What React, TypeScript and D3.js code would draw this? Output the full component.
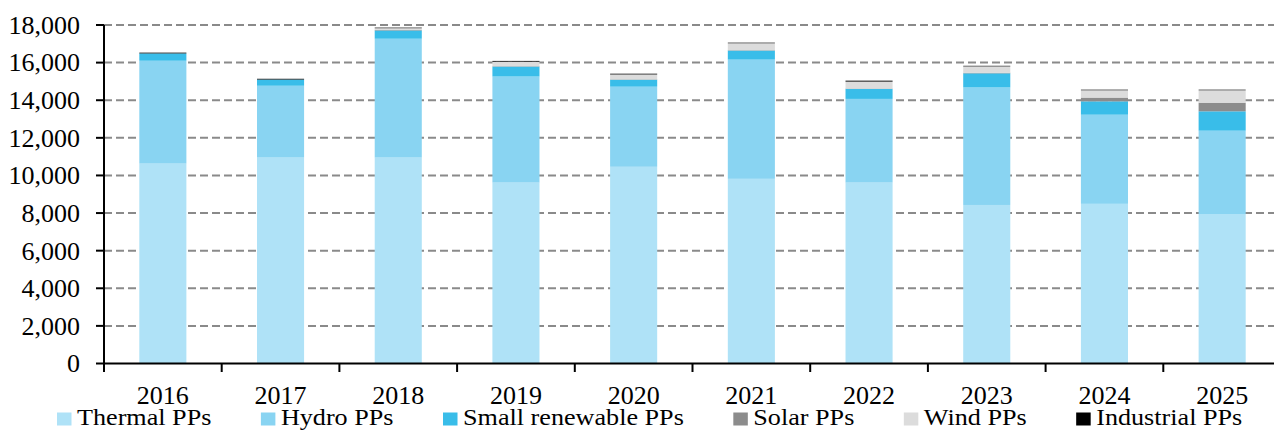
import { useEffect, useRef } from "react";
import * as d3 from "d3";

const years = ["2016", "2017", "2018", "2019", "2020", "2021", "2022", "2023", "2024", "2025"];
const thermal = [10630, 10950, 10950, 9620, 10460, 9820, 9620, 8430, 8490, 7950];
const hydro = [5470, 3820, 6320, 5640, 4260, 6340, 4450, 6250, 4740, 4430];
const smallRenewable = [390, 330, 440, 530, 370, 480, 530, 750, 710, 1030];
const solar = [0, 0, 30, 20, 20, 20, 20, 30, 200, 460];
const wind = [0, 0, 90, 240, 260, 370, 370, 340, 390, 660];
const industrial = [40, 40, 30, 40, 40, 30, 50, 30, 30, 30];
const yTicks = [0, 2000, 4000, 6000, 8000, 10000, 12000, 14000, 16000, 18000];

const seriesNames = ["Thermal PPs", "Hydro PPs", "Small renewable PPs", "Solar PPs", "Wind PPs", "Industrial PPs"];
const seriesColors = ["#afe2f7", "#89d4f2", "#39bde9", "#8c8c8c", "#dcdcdc", "#000000"];

const FONT = "'Liberation Serif', 'Times New Roman', serif";

function StackChart() {
  const ref = useRef<SVGSVGElement>(null);

  useEffect(() => {
    const width = 1274;
    const height = 431;
    const margin = { top: 25, left: 104, bottom: 363.5 };

    const svg = d3.select(ref.current);
    svg.selectAll("*").remove();

    const rows = years.map((y, i) => ({
      year: y,
      t: thermal[i],
      h: hydro[i],
      s: smallRenewable[i],
      so: solar[i],
      w: wind[i],
      ind: industrial[i],
    }));
    const keys = ["t", "h", "s", "so", "w", "ind"];
    const stacked = d3.stack<any>().keys(keys)(rows);

    const x = d3
      .scaleBand()
      .domain(years)
      .range([margin.left, 1281])
      .paddingInner(0.6)
      .paddingOuter(0.3);

    const y = d3.scaleLinear().domain([0, 18000]).range([margin.bottom, margin.top]);

    // grid
    svg
      .append("g")
      .selectAll("line")
      .data(yTicks.filter((d) => d > 0))
      .join("line")
      .attr("x1", margin.left)
      .attr("x2", width)
      .attr("y1", (d) => y(d))
      .attr("y2", (d) => y(d))
      .attr("stroke", "#8a8a8a")
      .attr("stroke-width", 2)
      .attr("stroke-dasharray", "8,4");

    // bars
    svg
      .append("g")
      .selectAll("g")
      .data(stacked)
      .join("g")
      .attr("fill", (d, i) => seriesColors[i])
      .selectAll("rect")
      .data((d) => d)
      .join("rect")
      .attr("x", (d: any) => x(d.data.year)!)
      .attr("width", x.bandwidth())
      .attr("y", (d) => y(d[1]))
      .attr("height", (d) => y(d[0]) - y(d[1]));

    // y axis
    const yAxis = svg.append("g").attr("transform", `translate(${margin.left},0)`);
    yAxis
      .append("line")
      .attr("y1", margin.top)
      .attr("y2", margin.bottom + 8.5)
      .attr("stroke", "#000")
      .attr("stroke-width", 2);
    yAxis
      .selectAll(".tk")
      .data(yTicks)
      .join("line")
      .attr("x1", -8)
      .attr("x2", 0)
      .attr("y1", (d) => y(d))
      .attr("y2", (d) => y(d))
      .attr("stroke", "#000")
      .attr("stroke-width", 2);
    yAxis
      .selectAll("text")
      .data(yTicks)
      .join("text")
      .attr("x", -24)
      .attr("y", (d) => y(d))
      .attr("dy", "0.34em")
      .attr("text-anchor", "end")
      .attr("font-family", FONT)
      .attr("font-size", 26)
      .text((d) => d3.format(",")(d));

    // x axis
    const step = x.step();
    const bounds = years.map((_, i) => margin.left + i * step);
    const xAxis = svg.append("g");
    xAxis
      .append("line")
      .attr("x1", margin.left)
      .attr("x2", width)
      .attr("y1", margin.bottom)
      .attr("y2", margin.bottom)
      .attr("stroke", "#000")
      .attr("stroke-width", 2);
    xAxis
      .selectAll(".tk")
      .data(bounds.slice(1))
      .join("line")
      .attr("x1", (d) => d)
      .attr("x2", (d) => d)
      .attr("y1", margin.bottom)
      .attr("y2", margin.bottom + 8.5)
      .attr("stroke", "#000")
      .attr("stroke-width", 2);
    xAxis
      .selectAll("text")
      .data(years)
      .join("text")
      .attr("x", (d) => x(d)! + x.bandwidth() / 2)
      .attr("y", 404)
      .attr("text-anchor", "middle")
      .attr("font-family", FONT)
      .attr("font-size", 26)
      .text((d) => d);

    // legend
    const legend = svg.append("g");
    let lx = 57;
    seriesNames.forEach((name, i) => {
      legend
        .append("rect")
        .attr("x", lx)
        .attr("y", 412.5)
        .attr("width", 14.5)
        .attr("height", 13)
        .attr("fill", seriesColors[i]);
      const t = legend
        .append("text")
        .attr("transform", `translate(${lx + 20},425) scale(1.09,1)`)
        .attr("font-family", FONT)
        .attr("font-size", 24)
        .text(name);
      const w = (t.node() as SVGTextElement).getComputedTextLength() * 1.09;
      lx += 20 + w + 49.5;
    });
  }, []);

  return (
    <svg
      ref={ref}
      width={1274}
      height={431}
      style={{ position: "absolute", left: 0, top: 0, background: "#fff" }}
    />
  );
}

export default function App() {
  return <StackChart />;
}
